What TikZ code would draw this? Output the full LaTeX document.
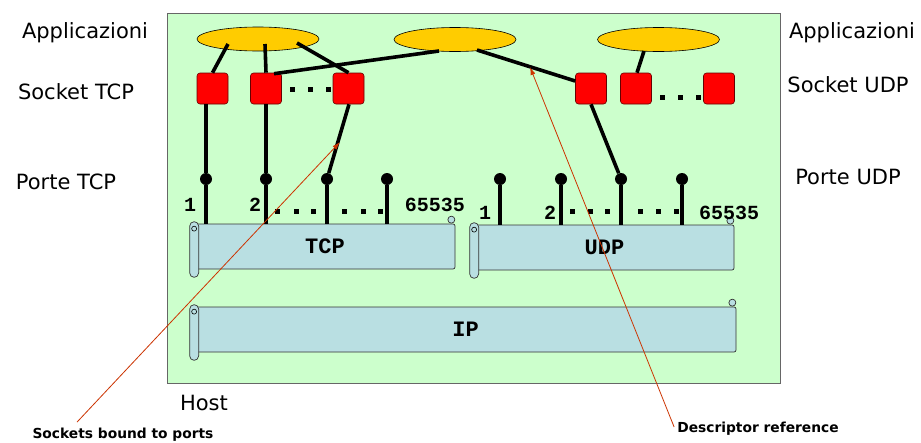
\documentclass[tikz,border=0pt]{standalone}
\usepackage{fontspec}
\setmainfont{DejaVu Sans}
\setmonofont{Liberation Mono}
\usetikzlibrary{shapes.geometric,arrows.meta,calc}
\definecolor{hostgreen}{RGB}{204,255,204}
\definecolor{appyellow}{RGB}{255,204,0}
\definecolor{scrollblue}{RGB}{185,223,226}
\definecolor{arrowred}{RGB}{204,51,0}
\newcommand\scrolldeco[1]{%
  \draw[scrollpart,rounded corners=4.5pt] ($(#1.north west)+(-5,-2)$) rectangle ($(#1.south west)+(4,8)$);
  \draw[line width=0.6pt] ($(#1.north west)+(-0.5,5)$) circle (2.5pt);
  \draw[scrollpart] ($(#1.north east)+(-4,-4)$) circle (3.5pt);
}
\begin{document}
\begin{tikzpicture}[x=1pt,y=-1pt,
  hostbox/.style={draw=black!60, fill=hostgreen, line width=1pt, inner sep=0, minimum width=613pt, minimum height=370pt},
  app/.style={ellipse, draw=black, fill=appyellow, line width=0.6pt, minimum width=122pt, minimum height=24pt, inner sep=0},
  sock/.style={draw=black!60!red, fill=red, rounded corners=3pt, minimum size=31pt, inner sep=0, line width=0.6pt},
  link/.style={line width=3.6pt, black},
  portdot/.style={circle, fill=black, minimum size=12pt, inner sep=0},
  dotsq/.style={fill=black, minimum size=5pt, inner sep=0},
  barbody/.style={draw=black!80, fill=scrollblue, rounded corners=2pt, line width=0.7pt, inner sep=0, minimum height=45pt, font=\ttfamily\bfseries\fontsize{22}{22}\selectfont},
  scrollpart/.style={draw=black!80, fill=scrollblue, line width=0.7pt},
  portnum/.style={font=\ttfamily\bfseries\fontsize{20}{20}\selectfont, inner sep=0},
  lbl/.style={font=\fontsize{21}{21}\selectfont, inner sep=0},
  note/.style={font=\bfseries\fontsize{13.8}{14}\selectfont, inner sep=0},
  callout/.style={draw=arrowred, line width=0.8pt, -{Latex[length=8pt,width=5pt]}}
]
\path[use as bounding box, fill=white] (0,0) rectangle (921,442);

% host
\node[hostbox] (host) at (473.5,198) {};
\node[lbl] (hostlbl) at (204,403) {Host};

% side labels
\node[lbl] (appL) at (85,33) {Applicazioni};
\node[lbl] (sockL) at (76,92) {Socket TCP};
\node[lbl] (portL) at (66,182) {Porte TCP};
\node[lbl] (appR) at (852,33) {Applicazioni};
\node[lbl] (sockR) at (848,85) {Socket UDP};
\node[lbl] (portR) at (848,177) {Porte UDP};

% applications
\node[app] (e1) at (258,39) {};
\node[app] (e2) at (455,39.5) {};
\node[app] (e3) at (658.5,39.5) {};

% sockets
\node[sock] (t1) at (212.5,88.5) {};
\node[sock] (t2) at (266,88.5) {};
\node[sock] (t3) at (348.5,88.5) {};
\node[sock] (u1) at (591,88.5) {};
\node[sock] (u2) at (636,88.5) {};
\node[sock] (u3) at (719,88.5) {};
\node[dotsq] (td1) at (292,89) {};
\node[dotsq] (td2) at (310,89) {};
\node[dotsq] (td3) at (328,89) {};
\node[dotsq] (ud1) at (662,97) {};
\node[dotsq] (ud2) at (680,97) {};
\node[dotsq] (ud3) at (698,97) {};

% protocol bars
\node[barbody, minimum width=260pt] (tcp) at (325,246.5) {TCP};
\scrolldeco{tcp}
\node[barbody, minimum width=259pt] (udp) at (604.5,247.5) {UDP};
\scrolldeco{udp}
\node[barbody, minimum width=541pt] (ip) at (465.5,329.5) {IP};
\scrolldeco{ip}

% ports
\foreach \n/\x in {tp1/206,tp2/266,tp3/327,tp4/387} {
  \node[portdot] (\n) at (\x,179) {};
  \draw[link] (\n) -- (\n |- tcp.north);
}
\foreach \n/\x in {up1/500,up2/561,up3/621,up4/682} {
  \node[portdot] (\n) at (\x,179) {};
  \draw[link] (\n) -- (\n |- udp.north);
}
\node[portnum] (tn1) at (190,205) {1};
\node[portnum] (tn2) at (255,205) {2};
\node[portnum] (tn3) at (435,205) {65535};
\node[portnum] (un1) at (485,213) {1};
\node[portnum] (un2) at (550,213) {2};
\node[portnum] (un3) at (729,213) {65535};
\foreach \x [count=\i] in {277,296,313,344,363,380} \node[dotsq] (tpd\i) at (\x,211) {};
\foreach \x [count=\i] in {572,590,607,640,658,676} \node[dotsq] (upd\i) at (\x,211) {};

% application - socket links
\draw[link] ($(e1)+(-30,5)$) -- (t1.north);
\draw[link] ($(e1)+(7,5)$) -- (t2.north);
\draw[link] ($(e1)+(39,4)$) -- (t3.north);
\draw[link] ($(e2)+(-16,11.5)$) -- ($(t2.north)+(8,1)$);
\draw[link] ($(e2)+(22,10.5)$) -- ($(u1.west)+(0,-7.5)$);
\draw[link] ($(e3)+(-14.5,11.5)$) -- ($(u2.north)+(1,0)$);

% socket - port links
\draw[link] (t1.south -| tp1) -- (tp1);
\draw[link] (t2.south) -- (tp2);
\draw[link] ($(t3.south)+(0.5,0)$) -- (tp3);
\draw[link] (u1.south) -- (up3);

% callouts
\node[note] (n1) at (123,435) {Sockets bound to ports};
\node[note] (n2) at (758,429) {Descriptor reference};
\coordinate (c1) at (340,142);
\coordinate (c2) at (530,67);
\draw[callout] ($(n1.north)+(-46,-6)$) -- (c1);
\draw[callout] ($(n2.west)+(-3,-2)$) -- (c2);
\end{tikzpicture}
\end{document}
